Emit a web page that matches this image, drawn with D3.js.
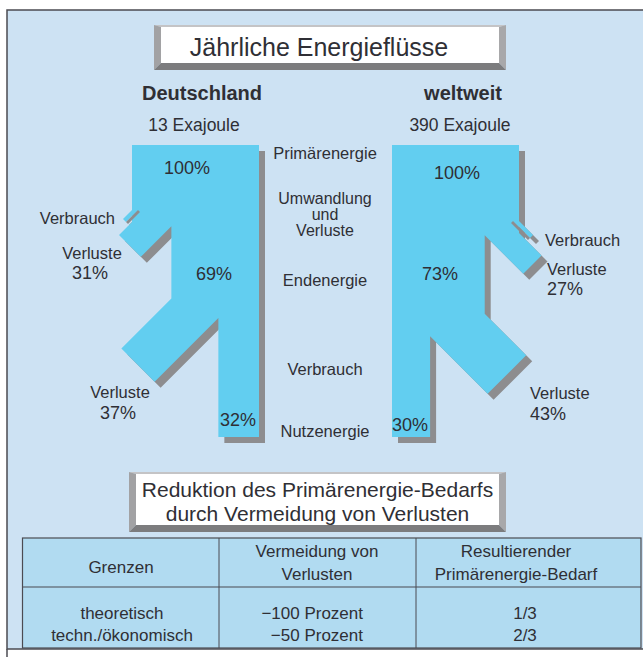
<!DOCTYPE html>
<html lang="de">
<head>
<meta charset="UTF-8">
<title>Jährliche Energieflüsse</title>
<style>
  html, body { margin: 0; padding: 0; background: #fff; }
  svg { display: block; font-family: "Liberation Sans", Arial, Helvetica, sans-serif; }
  text { fill: #2f2f35; }
</style>
<script src="https://cdn.jsdelivr.net/npm/d3@7"></script>
</head>
<body>
<svg id="chart" width="643" height="661"></svg>
<script>
// Energieflüsse in Prozent der Primärenergie
const regions = ["Deutschland", "weltweit"];
const totals = ["13 Exajoule", "390 Exajoule"];
const primaer = [100, 100];
const umwandlungsVerluste = [31, 27];
const endenergie = [69, 73];
const nutzungsVerluste = [37, 43];
const nutzenergie = [32, 30];
const stufen = [["Primärenergie"], ["Umwandlung", "und", "Verluste"], ["Endenergie"], ["Verbrauch"], ["Nutzenergie"]];

// Tabelle
const tabKopf = [["Grenzen"], ["Vermeidung von", "Verlusten"], ["Resultierender", "Primärenergie-Bedarf"]];
const grenzen = ["theoretisch", "techn./ökonomisch"];
const vermeidung = ["\u2212100 Prozent", "\u221250 Prozent"];
const bedarf = ["1/3", "2/3"];

const C = { bg: "#cde2f3", flow: "#62cef0", shadow: "#8d8d8f", line: "#4b4b52", table: "#b1dbf1" };
const svg = d3.select("#chart");
const widthScale = d3.scaleLinear().domain([0, 100]).range([0, 127]);
const R2 = Math.SQRT2;
const poly = pts => "M" + pts.map(p => p.join(",")).join("L") + "Z";

// frame
svg.append("rect").attr("x", 7).attr("y", 10).attr("width", 660).attr("height", 639)
  .attr("fill", C.bg).attr("stroke", C.line).attr("stroke-width", 1.5);
svg.append("line").attr("x1", 7).attr("x2", 7).attr("y1", 649).attr("y2", 657)
  .attr("stroke", C.line).attr("stroke-width", 1.5);

function bevelBox(x, y, w, h) {
  const t = 2, l = 7, r = 7, b = 7;
  const g = svg.append("g");
  g.append("path").attr("d", poly([[x, y], [x + w, y], [x + w - r, y + t], [x + l, y + t]])).attr("fill", "#c4c4c6");
  g.append("path").attr("d", poly([[x, y], [x + l, y + t], [x + l, y + h - b], [x, y + h]])).attr("fill", "#a2a2a4");
  g.append("path").attr("d", poly([[x + w, y], [x + w, y + h], [x + w - r, y + h - b], [x + w - r, y + t]])).attr("fill", "#a8a8aa");
  g.append("path").attr("d", poly([[x, y + h], [x + l, y + h - b], [x + w - r, y + h - b], [x + w, y + h]])).attr("fill", "#7c7c7e");
  g.append("rect").attr("x", x + l).attr("y", y + t).attr("width", w - l - r).attr("height", h - t - b).attr("fill", "#fff");
}

function label(x, y, txt, size, anchor, weight) {
  return svg.append("text").attr("x", x).attr("y", y).attr("text-anchor", anchor || "middle")
    .attr("font-size", size).attr("font-weight", weight || "normal").text(txt);
}

// title
bevelBox(154, 25, 352, 45);
label(319, 56, "Jährliche Energieflüsse", 25);

// flow panels: side -1 = Abzweige nach links, +1 = nach rechts
const panels = [
  { side: -1, fixedX: 259, head: 202, sub: 194, top: 145, bottom: 437,
    y1: 210, reach1: 38, sliverReach: 18, y2: 298.6, reach2: 100,
    pct: [[187, 174], [214, 280], [238, 426]],
    verbrauch: [115, 224, "end"], verl1: [92, 259, "middle"], verl2: [120, 398, "middle"] },
  { side: 1, fixedX: 392, head: 463, sub: 460, top: 145, bottom: 437,
    y1: 221, reach1: 57, sliverReach: 28, y2: 313.7, reach2: 83,
    pct: [[457, 179], [440, 280], [410, 431]],
    verbrauch: [545, 246, "start"], verl1: [547, 275, "start"], verl2: [530, 399, "start"] }
];

function pt(s, A, P) { return [s * (A - P) / 2, (A + P) / 2]; }

panels.forEach((p, i) => {
  const s = p.side;
  const edge = v => p.fixedX + s * widthScale(v);
  const e0 = edge(primaer[i]), e1 = edge(endenergie[i]), e2 = edge(nutzenergie[i]);
  // Umwandlung
  const A1 = s * e0 + p.y1, Ptop = p.y1 - s * e0;
  const Pvu = Ptop + 12, Pl1 = Ptop + widthScale(umwandlungsVerluste[i]) * R2;
  const Aend1 = A1 + p.reach1;
  // Verbrauch
  const A2 = s * e1 + p.y2, Pu2 = p.y2 - s * e1;
  const Pl2 = Pu2 + widthScale(nutzungsVerluste[i]) * R2;
  const Aend2 = A2 + p.reach2;

  const body = [
    [p.fixedX, p.top], [e0, p.top], [e0, Pvu + s * e0],
    pt(s, Aend1, Pvu), pt(s, Aend1, Pl1), [e1, Pl1 + s * e1],
    [e1, p.y2], pt(s, Aend2, Pu2), pt(s, Aend2, Pl2), [e2, Pl2 + s * e2],
    [e2, p.bottom], [p.fixedX, p.bottom]
  ];
  const sliver = [pt(s, A1 - 8, Ptop), pt(s, A1 + p.sliverReach, Ptop),
    pt(s, A1 + p.sliverReach, Ptop + 6), pt(s, A1 - 8, Ptop + 6)];
  const gap = [pt(s, A1 - 6, Ptop + 6), pt(s, A1 + p.sliverReach, Ptop + 6),
    pt(s, A1 + p.sliverReach, Ptop + 10), pt(s, A1 - 6, Ptop + 10)];

  const g = svg.append("g");
  const sh = g.append("g").attr("transform", "translate(6,6)").attr("fill", C.shadow);
  sh.append("path").attr("d", poly(body));
  sh.append("path").attr("d", poly(sliver));
  g.append("path").attr("d", poly(body)).attr("fill", C.flow);
  g.append("path").attr("d", poly(sliver)).attr("fill", C.flow);
  g.append("path").attr("d", poly(gap)).attr("fill", C.shadow);

  label(p.head, 100, regions[i], 20, "middle", "bold");
  label(p.sub, 131, totals[i], 17.5);
  [primaer[i], endenergie[i], nutzenergie[i]].forEach((v, k) =>
    label(p.pct[k][0], p.pct[k][1], v + "%", 18));
  label(p.verbrauch[0], p.verbrauch[1], "Verbrauch", 16.5, p.verbrauch[2]);
  label(p.verl1[0], p.verl1[1], "Verluste", 16.5, p.verl1[2]);
  label(p.verl1[0] - (s < 0 ? 2 : 0), p.verl1[1] + 20, umwandlungsVerluste[i] + "%", 18, p.verl1[2]);
  label(p.verl2[0], p.verl2[1], "Verluste", 16.5, p.verl2[2]);
  label(p.verl2[0] - (s < 0 ? 2 : 0), p.verl2[1] + 21, nutzungsVerluste[i] + "%", 18, p.verl2[2]);
});

// Stufen in der Mitte
const stufenY = [[159], [204, 220, 236], [286], [375], [437]];
stufen.forEach((lines, k) => lines.forEach((t, j) => label(325, stufenY[k][j], t, lines.length > 1 ? 16 : 16.5)));

// Tabelle
bevelBox(129, 472, 377, 60);
label(317.5, 497, "Reduktion des Primärenergie-Bedarfs", 21);
label(317.5, 521, "durch Vermeidung von Verlusten", 21);

const tx = [22.5, 219, 416, 641];
const ty = [538, 587, 648];
svg.append("rect").attr("x", tx[0]).attr("y", ty[0]).attr("width", tx[3] - tx[0]).attr("height", ty[2] - ty[0])
  .attr("fill", C.table).attr("stroke", C.line).attr("stroke-width", 1.2);
svg.append("line").attr("x1", tx[0]).attr("x2", tx[3]).attr("y1", ty[1]).attr("y2", ty[1])
  .attr("stroke", C.line).attr("stroke-width", 1.2);
[tx[1], tx[2]].forEach(x => svg.append("line").attr("x1", x).attr("x2", x).attr("y1", ty[0]).attr("y2", ty[2])
  .attr("stroke", C.line).attr("stroke-width", 1));

const kopfX = [121, 317, 516];
tabKopf.forEach((lines, c) => {
  const ys = lines.length === 1 ? [573] : [557, 580];
  lines.forEach((t, j) => label(kopfX[c], ys[j], t, 17));
});
const rowY = [619, 641];
grenzen.forEach((t, r) => label(122, rowY[r], t, 17));
vermeidung.forEach((t, r) => label(363, rowY[r], t, 17, "end"));
bedarf.forEach((t, r) => label(525, rowY[r], t, 17));
</script>
</body>
</html>
